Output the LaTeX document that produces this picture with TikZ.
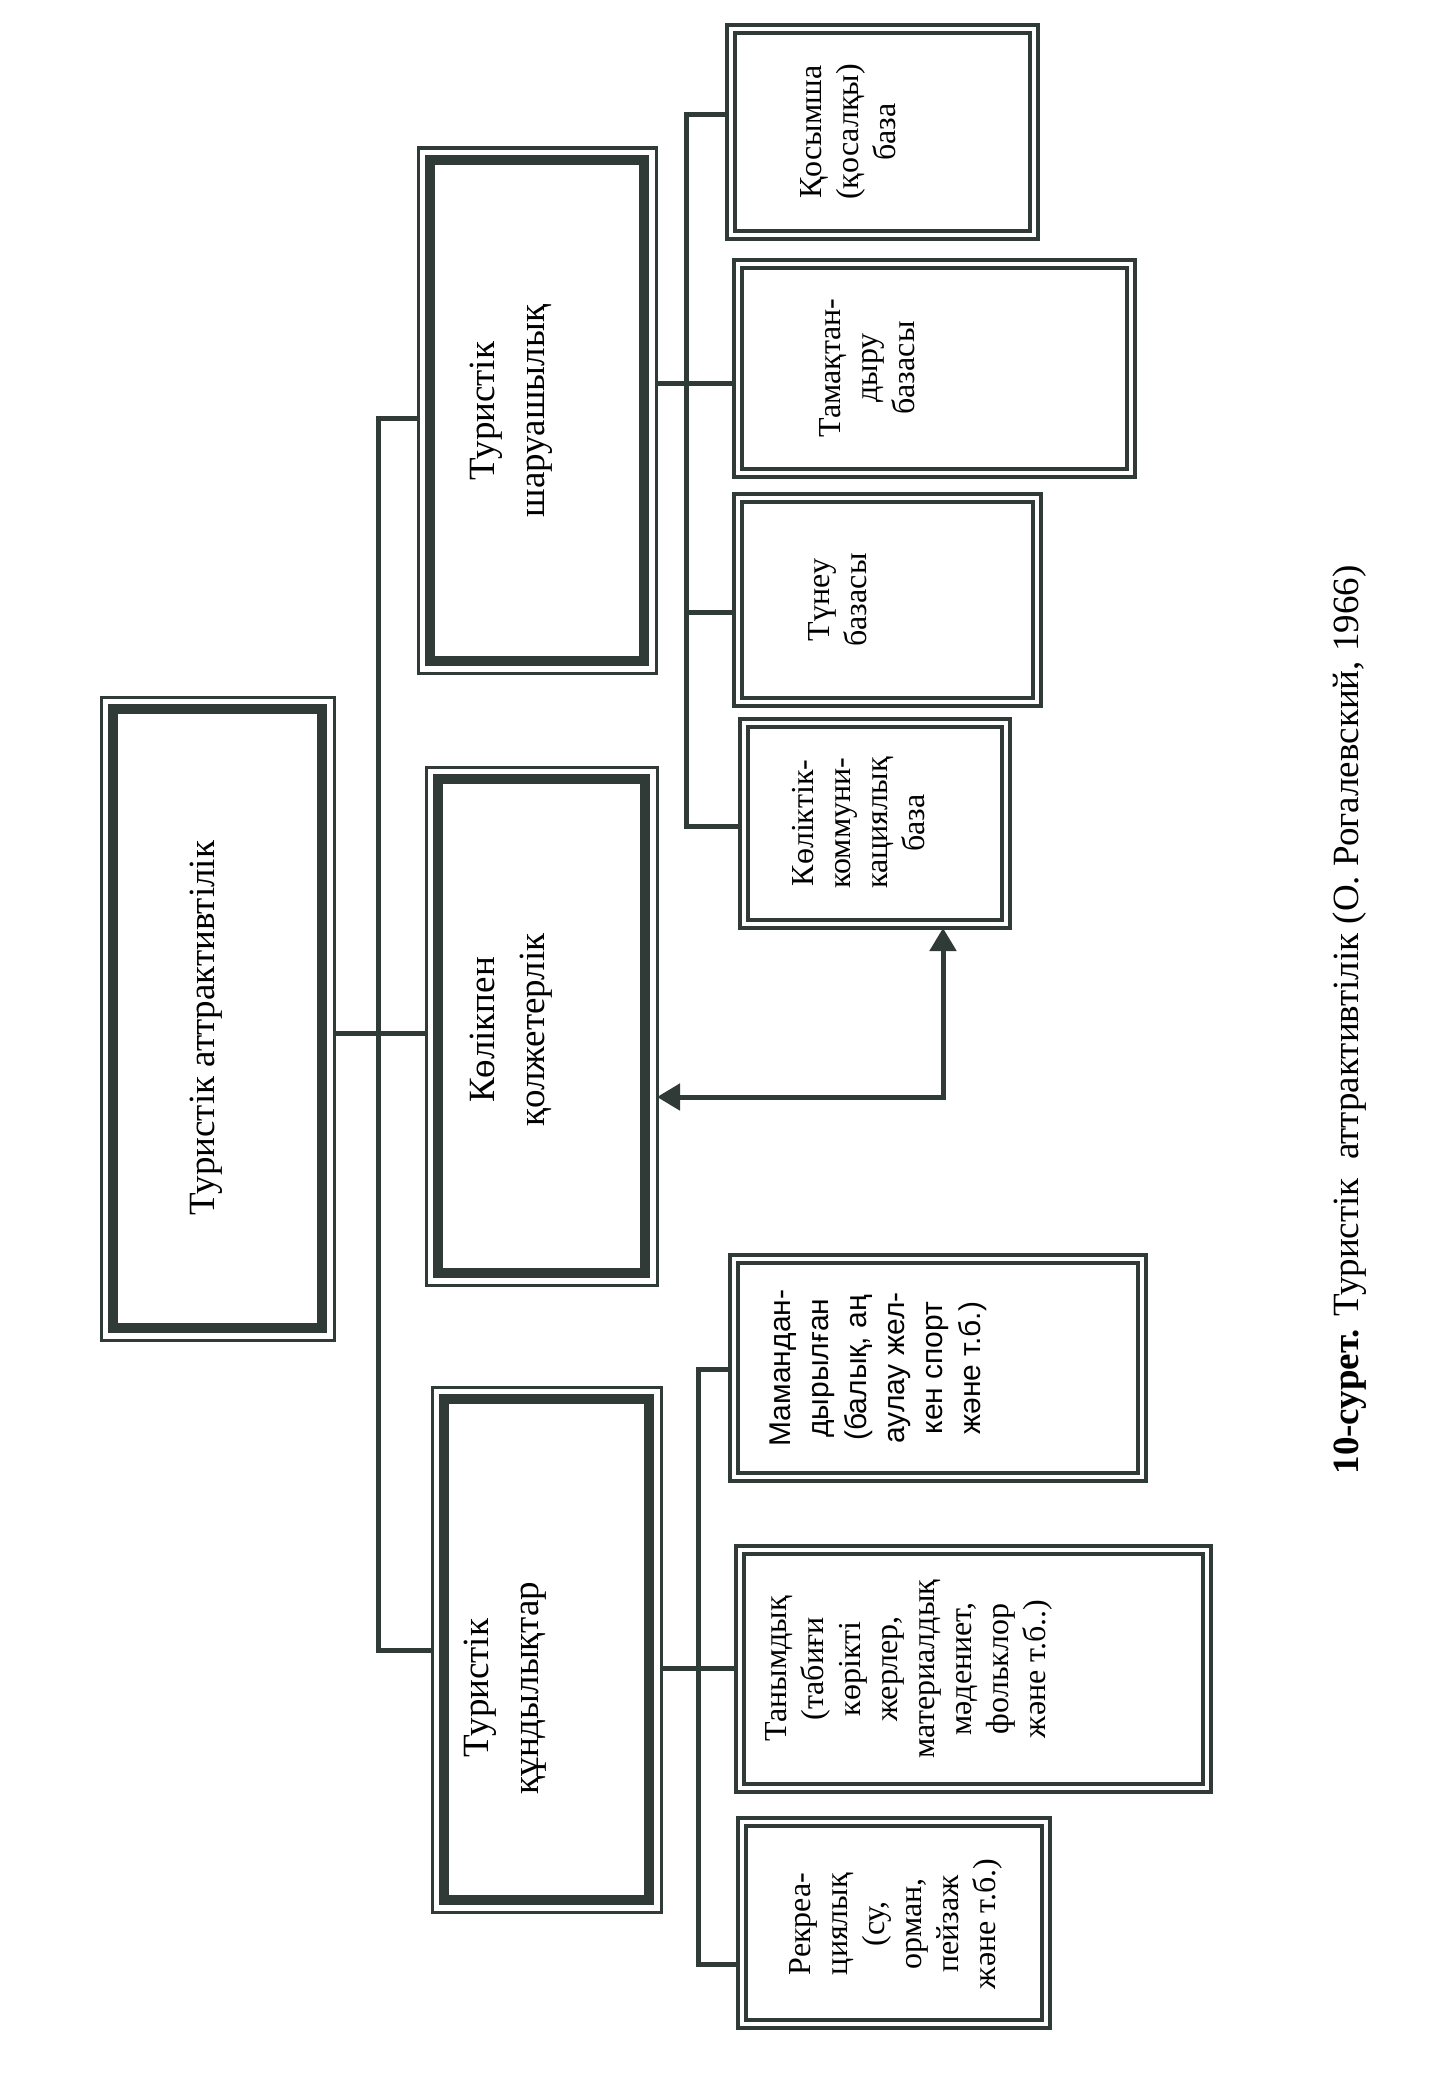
\documentclass[tikz,border=0pt]{standalone}
\usepackage{fontspec}
\setmainfont{Liberation Serif}
\newfontfamily\sansf{Liberation Sans}
\usetikzlibrary{fit,arrows.meta}
\definecolor{lc}{RGB}{48,58,55}
\tikzset{
  bigouter/.style={draw=lc, line width=1.5pt, inner sep=0pt, outer sep=0pt},
  bigin/.style={draw=lc, line width=5pt},
  smouter/.style={draw=lc, line width=2.2pt, inner sep=0pt, outer sep=0pt},
  smin/.style={draw=lc, line width=2.4pt},
  conn/.style={draw=lc, line width=2.5pt, line join=miter},
  bigtxt/.style={rotate=90, align=center, inner sep=0pt, font={\fontsize{18.5}{25}\selectfont}},
  smtxt/.style={rotate=90, align=center, inner sep=0pt, font={\fontsize{16}{18.5}\selectfont}},
  sanstxt/.style={rotate=90, align=center, inner sep=0pt, font={\sansf\fontsize{15}{19}\selectfont}},
  captxt/.style={rotate=90, inner sep=0pt, font={\fontsize{18.5}{22}\selectfont}},
  dblarrow/.style={{Triangle[length=11.5pt,width=13pt]}-{Triangle[length=11.5pt,width=13pt]}}
}
\newcommand\bigbx[5]{%
  \node[bigouter, fit={(#2,#3) (#4,#5)}] (#1) {};
  \draw[bigin] ([shift={(12,12)}]#1.north west) rectangle ([shift={(-12,-12)}]#1.south east);
}
\newcommand\smbx[5]{%
  \node[smouter, fit={(#2,#3) (#4,#5)}] (#1) {};
  \draw[smin] ([shift={(8,8)}]#1.north west) rectangle ([shift={(-8,-8)}]#1.south east);
}
\begin{document}
\begin{tikzpicture}[x=0.5pt,y=-0.5pt]
\fill[white] (0,0) rectangle (1446,2082);
\useasboundingbox (0,0) rectangle (1446,2082);

% boxes
\bigbx{M}{101}{697}{334}{1340}
\bigbx{S}{418}{148}{656}{673}
\bigbx{K}{426}{767}{657}{1285}
\bigbx{Q}{432}{1387}{661}{1912}
\smbx{S1}{727}{25}{1038}{239}
\smbx{S2}{734}{260}{1135}{477}
\smbx{S3}{734}{494}{1041}{706}
\smbx{S4}{740}{719}{1010}{928}
\smbx{Q1}{730}{1255}{1146}{1481}
\smbx{Q2}{736}{1546}{1211}{1792}
\smbx{Q3}{738}{1818}{1050}{2028}

% texts
\node[bigtxt] (Mt) at (206,1028) {Туристік аттрактивтілік};
\node[bigtxt] (St) at (511,411) {Туристік\\шаруашылық};
\node[bigtxt] (Kt) at (511,1030) {Көлікпен\\қолжетерлік};
\node[bigtxt] (Qt) at (505,1688) {Туристік\\құндылықтар};
\node[smtxt] (S1t) at (848,132) {Қосымша\\(қосалқы)\\база};
\node[smtxt] (S2t) at (867,368) {Тамақтан-\\дыру\\базасы};
\node[smtxt] (S3t) at (838,600) {Түнеу\\базасы};
\node[smtxt] (S4t) at (859,823) {Көліктік-\\коммуни-\\кациялық\\база};
\node[sanstxt] (Q1t) at (878,1368) {Мамандан-\\дырылған\\(балық, аң\\аулау жел-\\кен спорт\\және т.б.)};
\node[smtxt] (Q2t) at (909,1669) {Танымдық\\(табиғи\\көрікті\\жерлер,\\материалдық\\мәдениет,\\фольклор\\және т.б..)};
\node[smtxt] (Q3t) at (896,1924) {Рекреа-\\циялық\\(су,\\орман,\\пейзаж\\және т.б.)};

% connectors
\coordinate (tA) at (378,418);
\coordinate (tB) at (378,1650);
\coordinate (mA) at (380,1033);
\draw[conn] (S.west |- tA) -- (tA) -- (tB) -- (Q.west |- tB);
\draw[conn] (M.east |- mA) -- (K.west |- mA);

\coordinate (sA) at (686,115);
\coordinate (sB) at (686,383);
\coordinate (sC) at (686,612);
\coordinate (sD) at (686,826);
\draw[conn] (S1.west |- sA) -- (sA) -- (sD) -- (S4.west |- sD);
\draw[conn] (S.east |- sB) -- (S2.west |- sB);
\draw[conn] (sC) -- (S3.west |- sC);

\coordinate (qA) at (698,1369);
\coordinate (qB) at (698,1668);
\coordinate (qC) at (698,1964);
\draw[conn] (Q1.west |- qA) -- (qA) -- (qC) -- (Q3.west |- qC);
\draw[conn] (Q.east |- qB) -- (Q2.west |- qB);

\coordinate (aC) at (943,1097);
\draw[conn, dblarrow] (K.east |- aC) -- (aC) -- (S4.south -| aC);

% caption
\node[captxt] (cap) at (1350,1020) {\textbf{10-сурет.} Туристік\ \ аттрактивтілік (О. Рогалевский, 1966)};
\end{tikzpicture}
\end{document}
